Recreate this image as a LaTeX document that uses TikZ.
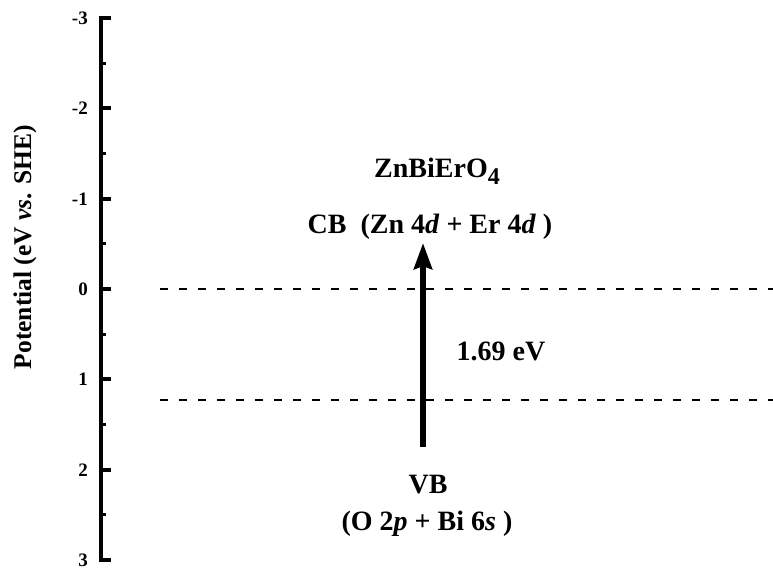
\documentclass[tikz,border=0pt]{standalone}
\usepackage{fontspec}
\setmainfont{Liberation Serif}
\usetikzlibrary{arrows.meta}
\tikzset{
  axisline/.style={line width=4.5pt, line join=miter, line cap=butt},
  majortick/.style={line width=4pt},
  minortick/.style={line width=3pt},
  ticklabel/.style={anchor=base east, inner sep=0pt, font=\fontsize{19}{19}\selectfont\bfseries},
  level/.style={line width=2pt, dash pattern=on 8pt off 11pt},
  lbl/.style={inner sep=0pt, anchor=base, font=\fontsize{28}{28}\selectfont\bfseries},
  ylbl/.style={inner sep=0pt, font=\fontsize{25.5}{25.5}\selectfont\bfseries},
  gaparrow/.style={line width=6pt, -{Stealth[length=26pt,width=18pt,inset=3pt]}}
}
\begin{document}
\begin{tikzpicture}[x=1pt,y=-1pt]
\useasboundingbox (0,0) rectangle (773,581);
% axis
\draw[axisline] (111,18) -- (101,18) -- (101,560) -- (111,560);
\foreach \k in {1,...,5}{
  \draw[majortick] (101,{18+90.33*\k}) -- (111,{18+90.33*\k});
}
\foreach \k in {0,...,5}{
  \draw[minortick] (101,{63.2+90.33*\k}) -- (105.5,{63.2+90.33*\k});
}
\foreach \k/\t in {0/-3,1/-2,2/-1,3/0,4/1,5/2,6/3}{
  \node[ticklabel] (t\k) at (88,{24.4+90.33*\k}) {\t};
}
\node[ylbl, rotate=90] (ylab) at (25,247) {Potential (eV \textit{vs}. SHE)};
% levels
\coordinate (cbl) at (160,289);
\coordinate (cbr) at (773,289);
\coordinate (vbl) at (160,400);
\coordinate (vbr) at (773,400);
\draw[level] (cbl) -- (cbr);
\draw[level] (vbl) -- (vbr);
% arrow
\coordinate (arrS) at (423,447);
\coordinate (arrE) at (423,243);
\draw[gaparrow] (arrS) -- (arrE);
% labels
\node[lbl] (comp) at (437,177) {ZnBiErO\raisebox{-7pt}{\fontsize{24}{24}\selectfont 4}};
\node[lbl] (cb) at (430,233) {CB\ \ (Zn 4\textit{d} + Er 4\textit{d} )};
\node[lbl] (gap) at (501,360) {1.69 eV};
\node[lbl] (vb) at (428,493) {VB};
\node[lbl] (vbo) at (427,530) {(O 2\textit{p} + Bi 6\textit{s} )};
\end{tikzpicture}
\end{document}
